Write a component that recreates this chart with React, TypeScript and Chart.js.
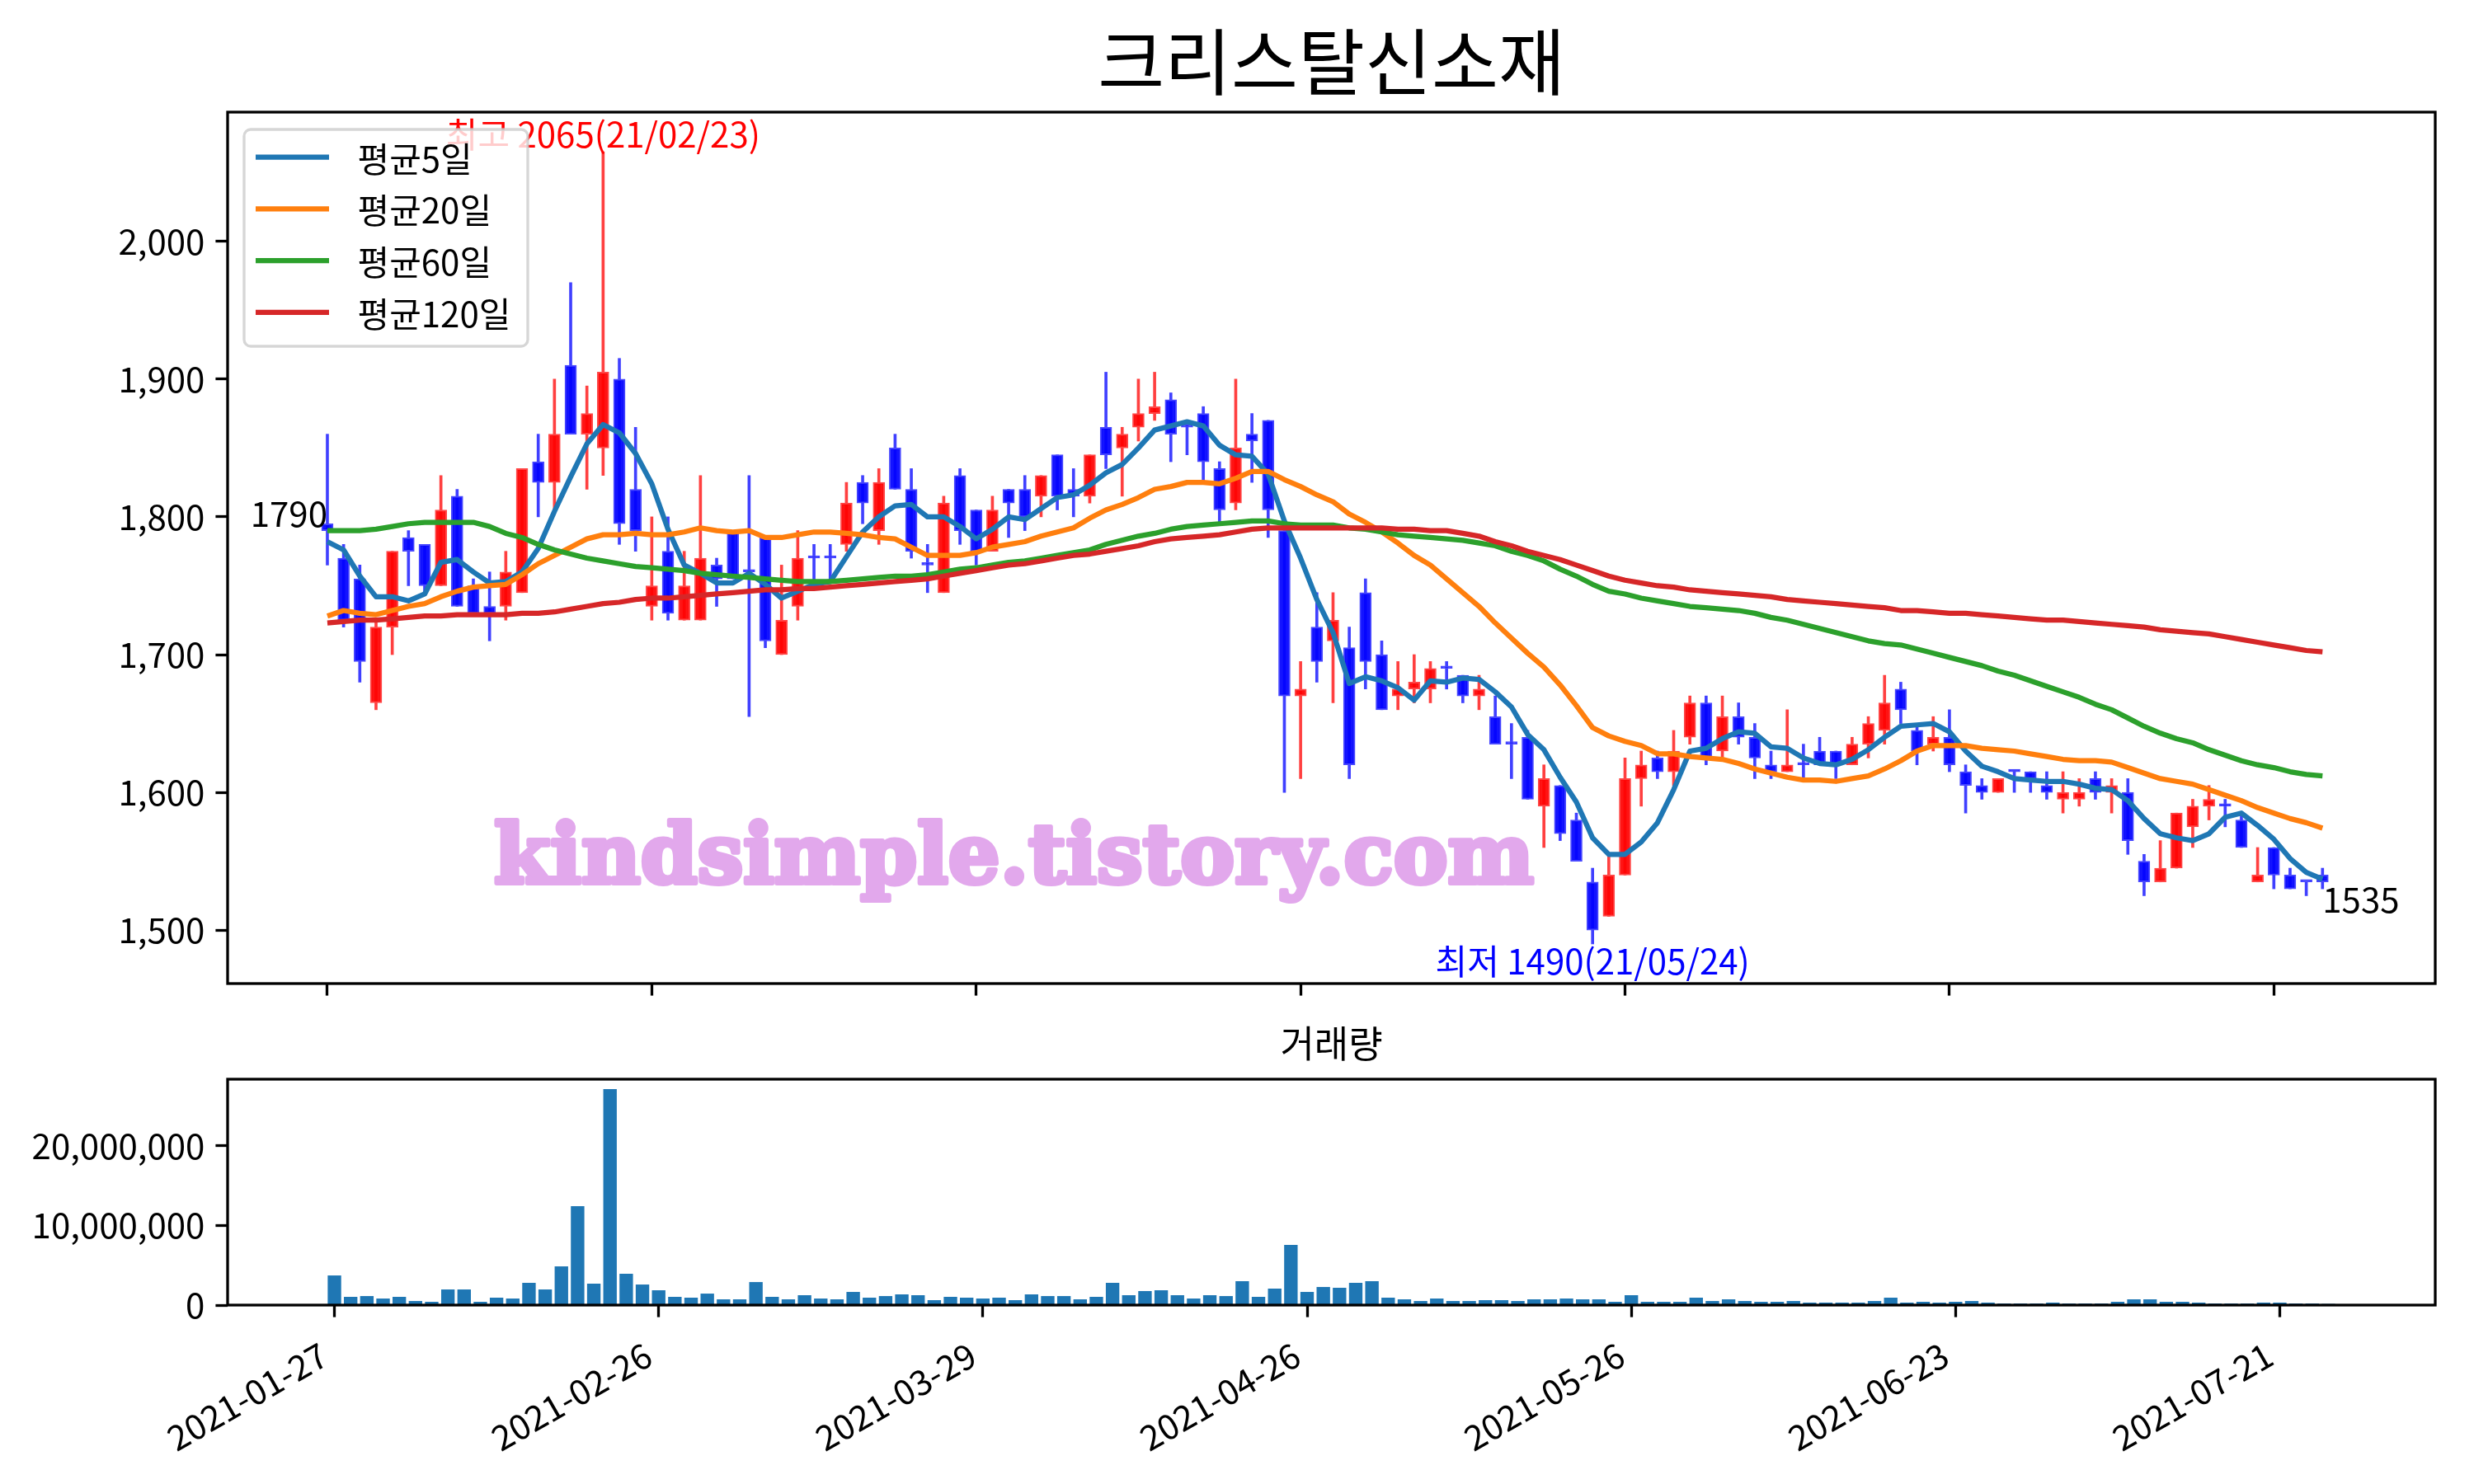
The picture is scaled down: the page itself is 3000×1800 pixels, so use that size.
import React, { useEffect, useRef } from 'react';
import { Chart, registerables } from 'chart.js';

Chart.register(...registerables);

// ---------------- data ----------------
const dates = [
  '2021-01-27', '2021-01-28', '2021-01-29',
  '2021-02-01', '2021-02-02', '2021-02-03', '2021-02-04', '2021-02-05',
  '2021-02-08', '2021-02-09', '2021-02-10',
  '2021-02-15', '2021-02-16', '2021-02-17', '2021-02-18', '2021-02-19',
  '2021-02-22', '2021-02-23', '2021-02-24', '2021-02-25', '2021-02-26',
  '2021-03-02', '2021-03-03', '2021-03-04', '2021-03-05',
  '2021-03-08', '2021-03-09', '2021-03-10', '2021-03-11', '2021-03-12',
  '2021-03-15', '2021-03-16', '2021-03-17', '2021-03-18', '2021-03-19',
  '2021-03-22', '2021-03-23', '2021-03-24', '2021-03-25', '2021-03-26',
  '2021-03-29', '2021-03-30', '2021-03-31', '2021-04-01', '2021-04-02',
  '2021-04-05', '2021-04-06', '2021-04-07', '2021-04-08', '2021-04-09',
  '2021-04-12', '2021-04-13', '2021-04-14', '2021-04-15', '2021-04-16',
  '2021-04-19', '2021-04-20', '2021-04-21', '2021-04-22', '2021-04-23',
  '2021-04-26', '2021-04-27', '2021-04-28', '2021-04-29', '2021-04-30',
  '2021-05-03', '2021-05-04', '2021-05-06', '2021-05-07',
  '2021-05-10', '2021-05-11', '2021-05-12', '2021-05-13', '2021-05-14',
  '2021-05-17', '2021-05-18', '2021-05-20', '2021-05-21',
  '2021-05-24', '2021-05-25', '2021-05-26', '2021-05-27', '2021-05-28',
  '2021-05-31', '2021-06-01', '2021-06-02', '2021-06-03', '2021-06-04',
  '2021-06-07', '2021-06-08', '2021-06-09', '2021-06-10', '2021-06-11',
  '2021-06-14', '2021-06-15', '2021-06-16', '2021-06-17', '2021-06-18',
  '2021-06-21', '2021-06-22', '2021-06-23', '2021-06-24', '2021-06-25',
  '2021-06-28', '2021-06-29', '2021-06-30', '2021-07-01', '2021-07-02',
  '2021-07-05', '2021-07-06', '2021-07-07', '2021-07-08', '2021-07-09',
  '2021-07-12', '2021-07-13', '2021-07-14', '2021-07-15', '2021-07-16',
  '2021-07-19', '2021-07-20', '2021-07-21', '2021-07-22', '2021-07-23',
  '2021-07-26',
];

const opens = [
  1795, 1770, 1755, 1665, 1720, 1785, 1780, 1750, 1815, 1750,
  1735, 1735, 1745, 1840, 1825, 1910, 1860, 1850, 1900, 1820,
  1735, 1775, 1725, 1725, 1765, 1790, 1760, 1785, 1700, 1735,
  1770, 1770, 1780, 1825, 1790, 1850, 1820, 1765, 1745, 1830,
  1805, 1775, 1820, 1820, 1815, 1845, 1820, 1815, 1865, 1850,
  1865, 1875, 1885, 1865, 1875, 1835, 1810, 1860, 1870, 1790,
  1670, 1720, 1710, 1705, 1745, 1700, 1670, 1675, 1675, 1690,
  1685, 1670, 1655, 1635, 1640, 1590, 1605, 1580, 1535, 1510,
  1540, 1610, 1625, 1615, 1640, 1665, 1630, 1655, 1640, 1620,
  1615, 1620, 1630, 1630, 1620, 1635, 1645, 1675, 1645, 1635,
  1640, 1615, 1605, 1600, 1615, 1615, 1605, 1595, 1595, 1610,
  1600, 1600, 1550, 1535, 1545, 1575, 1590, 1590, 1580, 1535,
  1560, 1540, 1535, 1540,
];

const highs = [
  1860, 1780, 1765, 1725, 1775, 1790, 1780, 1830, 1820, 1755,
  1760, 1775, 1835, 1860, 1900, 1970, 1895, 2065, 1915, 1865,
  1800, 1800, 1775, 1830, 1770, 1790, 1830, 1785, 1765, 1790,
  1780, 1780, 1825, 1830, 1835, 1860, 1835, 1780, 1815, 1835,
  1805, 1815, 1820, 1830, 1830, 1845, 1835, 1845, 1905, 1865,
  1900, 1905, 1890, 1870, 1880, 1840, 1900, 1875, 1870, 1790,
  1695, 1745, 1745, 1720, 1755, 1710, 1695, 1700, 1695, 1695,
  1685, 1685, 1670, 1650, 1645, 1620, 1605, 1585, 1545, 1555,
  1625, 1630, 1630, 1645, 1670, 1670, 1670, 1665, 1650, 1630,
  1660, 1635, 1640, 1630, 1640, 1655, 1685, 1680, 1650, 1655,
  1660, 1620, 1610, 1610, 1615, 1615, 1615, 1615, 1610, 1615,
  1610, 1610, 1555, 1565, 1585, 1595, 1605, 1595, 1585, 1560,
  1560, 1545, 1535, 1545,
];

const lows = [
  1765, 1720, 1680, 1660, 1700, 1750, 1745, 1750, 1735, 1730,
  1710, 1725, 1745, 1800, 1805, 1860, 1820, 1830, 1780, 1775,
  1725, 1725, 1725, 1725, 1735, 1755, 1655, 1705, 1700, 1725,
  1750, 1755, 1775, 1795, 1780, 1820, 1770, 1745, 1745, 1780,
  1765, 1775, 1785, 1790, 1800, 1805, 1800, 1810, 1835, 1815,
  1855, 1870, 1840, 1845, 1825, 1795, 1805, 1825, 1785, 1600,
  1610, 1680, 1665, 1610, 1675, 1660, 1660, 1665, 1665, 1675,
  1665, 1660, 1635, 1610, 1595, 1560, 1565, 1550, 1490, 1510,
  1540, 1590, 1610, 1605, 1635, 1620, 1625, 1635, 1610, 1610,
  1615, 1610, 1620, 1610, 1620, 1625, 1635, 1650, 1620, 1630,
  1615, 1585, 1595, 1600, 1600, 1600, 1595, 1585, 1590, 1595,
  1585, 1555, 1525, 1535, 1545, 1560, 1580, 1575, 1560, 1535,
  1530, 1530, 1525, 1530,
];

const closes = [
  1790, 1725, 1695, 1720, 1775, 1775, 1750, 1805, 1735, 1730,
  1730, 1760, 1835, 1825, 1860, 1860, 1875, 1905, 1795, 1790,
  1750, 1730, 1750, 1770, 1755, 1755, 1760, 1710, 1725, 1770,
  1770, 1770, 1810, 1810, 1825, 1820, 1775, 1765, 1810, 1790,
  1775, 1805, 1810, 1800, 1830, 1815, 1815, 1845, 1845, 1860,
  1875, 1880, 1860, 1865, 1840, 1805, 1850, 1855, 1805, 1670,
  1675, 1695, 1725, 1620, 1695, 1660, 1675, 1680, 1690, 1690,
  1670, 1675, 1635, 1635, 1595, 1610, 1570, 1550, 1500, 1540,
  1610, 1620, 1615, 1630, 1665, 1625, 1655, 1640, 1625, 1615,
  1620, 1620, 1620, 1620, 1635, 1650, 1665, 1660, 1630, 1640,
  1620, 1605, 1600, 1610, 1615, 1610, 1600, 1600, 1600, 1600,
  1605, 1565, 1535, 1545, 1585, 1590, 1595, 1590, 1560, 1540,
  1540, 1530, 1535, 1535,
];

// volume in millions of shares
const volumesMillions = [
  3.69, 1.00, 1.10, 0.79, 1.00, 0.48, 0.38, 1.93, 1.93, 0.38,
  0.90, 0.79, 2.76, 1.93, 4.83, 12.39, 2.66, 27.09, 3.90, 2.55,
  1.83, 1.00, 0.90, 1.41, 0.69, 0.69, 2.86, 1.00, 0.69, 1.21,
  0.79, 0.69, 1.62, 0.90, 1.10, 1.31, 1.21, 0.59, 1.00, 0.90,
  0.79, 0.90, 0.59, 1.31, 1.10, 1.10, 0.69, 1.00, 2.76, 1.21,
  1.73, 1.83, 1.21, 0.79, 1.21, 1.10, 2.97, 1.00, 2.04, 7.52,
  1.62, 2.24, 2.14, 2.76, 2.97, 0.90, 0.69, 0.48, 0.79, 0.48,
  0.48, 0.59, 0.59, 0.48, 0.69, 0.69, 0.79, 0.69, 0.69, 0.38,
  1.21, 0.38, 0.38, 0.38, 0.90, 0.48, 0.69, 0.48, 0.38, 0.38,
  0.48, 0.28, 0.28, 0.28, 0.28, 0.48, 0.90, 0.28, 0.38, 0.28,
  0.38, 0.48, 0.28, 0.17, 0.17, 0.17, 0.28, 0.17, 0.17, 0.17,
  0.38, 0.69, 0.69, 0.38, 0.38, 0.28, 0.17, 0.17, 0.17, 0.28,
  0.28, 0.17, 0.17, 0.12,
];

const ma5 = [
  1782, 1776, 1757, 1742, 1742, 1739, 1744, 1767, 1769, 1760,
  1752, 1753, 1760, 1777, 1804, 1829, 1853, 1867, 1861, 1846,
  1824, 1791, 1765, 1759, 1752, 1752, 1759, 1751, 1741, 1746,
  1751, 1753, 1771, 1789, 1800, 1808, 1809, 1800, 1800, 1793,
  1784, 1791, 1800, 1798, 1806, 1814, 1816, 1823, 1832, 1838,
  1850, 1863, 1866, 1869, 1866, 1852, 1845, 1844, 1831, 1797,
  1770, 1740, 1716, 1679, 1684, 1681, 1676, 1667, 1681, 1680,
  1683, 1682, 1673, 1662, 1642, 1631, 1611, 1593, 1567, 1555,
  1555, 1564, 1578, 1602, 1630, 1632, 1639, 1644, 1643, 1633,
  1632, 1625, 1621, 1620, 1624, 1631, 1640, 1648, 1649, 1650,
  1644, 1630, 1619, 1615, 1610, 1609, 1608, 1608, 1606, 1603,
  1602, 1594, 1581, 1570, 1567, 1565, 1570, 1582, 1585, 1576,
  1566, 1552, 1542, 1537,
];

const ma20 = [
  1728, 1732, 1730, 1729, 1732, 1735, 1737, 1742, 1746, 1749,
  1750, 1751, 1758, 1766, 1772, 1778, 1784, 1787, 1787, 1788,
  1787, 1787, 1789, 1792, 1790, 1789, 1790, 1785, 1785, 1787,
  1789, 1789, 1788, 1787, 1785, 1784, 1778, 1772, 1772, 1772,
  1774, 1778, 1780, 1782, 1786, 1789, 1792, 1799, 1805, 1809,
  1814, 1820, 1822, 1825, 1825, 1824, 1828, 1833, 1833, 1827,
  1822, 1816, 1811, 1802, 1796, 1789, 1781, 1772, 1765, 1755,
  1745, 1735, 1723, 1712, 1701, 1691, 1678, 1663, 1647, 1641,
  1637, 1634, 1628, 1628, 1626, 1625, 1624, 1621, 1617, 1614,
  1611, 1609, 1609, 1608, 1610, 1612, 1617, 1623, 1630, 1634,
  1634, 1634, 1632, 1631, 1630, 1628, 1626, 1624, 1623, 1623,
  1622, 1618, 1614, 1610, 1608, 1606, 1602, 1598, 1594, 1589,
  1585, 1581, 1578, 1574,
];

const ma60 = [
  1790, 1790, 1790, 1791, 1793, 1795, 1796, 1796, 1796, 1796,
  1793, 1788, 1785, 1780, 1776, 1773, 1770, 1768, 1766, 1764,
  1763, 1762, 1761, 1759, 1758, 1757, 1756, 1755, 1754, 1753,
  1753, 1753, 1754, 1755, 1756, 1757, 1757, 1758, 1760, 1762,
  1763, 1765, 1767, 1768, 1770, 1772, 1774, 1776, 1780, 1783,
  1786, 1788, 1791, 1793, 1794, 1795, 1796, 1797, 1797, 1795,
  1794, 1794, 1794, 1792, 1791, 1789, 1787, 1786, 1785, 1784,
  1783, 1781, 1779, 1775, 1772, 1768, 1762, 1757, 1751, 1746,
  1744, 1741, 1739, 1737, 1735, 1734, 1733, 1732, 1730, 1727,
  1725, 1722, 1719, 1716, 1713, 1710, 1708, 1707, 1704, 1701,
  1698, 1695, 1692, 1688, 1685, 1681, 1677, 1673, 1669, 1664,
  1660, 1654, 1648, 1643, 1639, 1636, 1631, 1627, 1623, 1620,
  1618, 1615, 1613, 1612,
];

const ma120 = [
  1723, 1724, 1725, 1725, 1726, 1727, 1728, 1728, 1729, 1729,
  1729, 1729, 1730, 1730, 1731, 1733, 1735, 1737, 1738, 1740,
  1741, 1741, 1742, 1743, 1744, 1745, 1746, 1747, 1747, 1748,
  1748, 1749, 1750, 1751, 1752, 1753, 1754, 1755, 1757, 1759,
  1761, 1763, 1765, 1766, 1768, 1770, 1772, 1773, 1775, 1777,
  1779, 1782, 1784, 1785, 1786, 1787, 1789, 1791, 1792, 1792,
  1792, 1792, 1792, 1792, 1792, 1792, 1791, 1791, 1790, 1790,
  1788, 1786, 1782, 1779, 1775, 1772, 1769, 1765, 1761, 1757,
  1754, 1752, 1750, 1749, 1747, 1746, 1745, 1744, 1743, 1742,
  1740, 1739, 1738, 1737, 1736, 1735, 1734, 1732, 1732, 1731,
  1730, 1730, 1729, 1728, 1727, 1726, 1725, 1725, 1724, 1723,
  1722, 1721, 1720, 1718, 1717, 1716, 1715, 1713, 1711, 1709,
  1707, 1705, 1703, 1702,
];

const tickIndices = [0, 20, 40, 60, 80, 100, 120];
const priceTicks = [1500, 1600, 1700, 1800, 1900, 2000];
const volumeTicks = [0, 10000000, 20000000];

const maSeries = [
  { label: '평균5일', values: ma5, color: '#1f77b4' },
  { label: '평균20일', values: ma20, color: '#ff7f0e' },
  { label: '평균60일', values: ma60, color: '#2ca02c' },
  { label: '평균120일', values: ma120, color: '#d62728' },
];

const titleText = '크리스탈신소재';
const volumeTitle = '거래량';
const watermark = 'kindsimple.tistory.com';

// ---------------- layout ----------------
const W = 3000;
const MAIN_H = 1240;
const VOL_H = 560;
const PLOT_L = 276;
const PLOT_R = 2953;
const MAIN_T = 136;
const MAIN_B = 1193;
const VOL_T = 1309 - MAIN_H;
const VOL_B = 1583 - MAIN_H;
const FONT = '"Noto Sans CJK KR", "Noto Sans", sans-serif';
const FS = 42;
const TICK_LEN = 14.6;
const TICK_W = 3.3;

function fmt(v: number) {
  return Number(v).toLocaleString('en-US');
}

function drawSpines(ctx: CanvasRenderingContext2D, a: any) {
  ctx.save();
  ctx.strokeStyle = '#000';
  ctx.lineWidth = TICK_W;
  ctx.strokeRect(a.left, a.top, a.right - a.left, a.bottom - a.top);
  ctx.restore();
}

function roundRectPath(ctx: CanvasRenderingContext2D, x: number, y: number, w: number, h: number, r: number) {
  ctx.beginPath();
  ctx.moveTo(x + r, y);
  ctx.lineTo(x + w - r, y);
  ctx.arcTo(x + w, y, x + w, y + r, r);
  ctx.lineTo(x + w, y + h - r);
  ctx.arcTo(x + w, y + h, x + w - r, y + h, r);
  ctx.lineTo(x + r, y + h);
  ctx.arcTo(x, y + h, x, y + h - r, r);
  ctx.lineTo(x, y + r);
  ctx.arcTo(x, y, x + r, y, r);
  ctx.closePath();
}

export default function App() {
  const mainRef = useRef<HTMLCanvasElement>(null);
  const volRef = useRef<HTMLCanvasElement>(null);

  useEffect(() => {
    document.body.style.margin = '0';
    const idx = dates.map((_, i) => i);
    const up = idx.map((i) => closes[i] > opens[i]);
    const bodyFill = up.map((u) => (u ? 'rgba(255,0,0,0.92)' : 'rgba(0,0,255,0.92)'));
    const bodyEdge = up.map((u) => (u ? 'rgba(255,70,70,1)' : 'rgba(70,70,255,1)'));
    const wickColor = up.map((u) => (u ? 'rgba(255,0,0,0.75)' : 'rgba(0,0,255,0.75)'));

    const hiVal = Math.max(...highs);
    const hiIdx = highs.indexOf(hiVal);
    const loVal = Math.min(...lows);
    const loIdx = lows.indexOf(loVal);
    const short = (d: string) => d.slice(2).replace(/-/g, '/');

    const tickStyle = {
      display: true,
      drawOnChartArea: false,
      drawTicks: true,
      tickLength: TICK_LEN,
      tickWidth: TICK_W,
      tickColor: '#000',
      offset: false,
    };

    const mainDeco = {
      id: 'mainDeco',
      afterDatasetsDraw(chart: any) {
        const ctx: CanvasRenderingContext2D = chart.ctx;
        const xs = chart.scales.x;
        const ys = chart.scales.y;
        const a = chart.chartArea;

        // watermark
        ctx.save();
        ctx.font = 'bold 100px "DejaVu Serif"';
        const ww = ctx.measureText(watermark).width;
        ctx.translate(599, 1071);
        ctx.scale(1261 / ww, 1);
        ctx.fillStyle = '#e2a8ec';
        ctx.strokeStyle = '#e2a8ec';
        ctx.lineWidth = 6;
        ctx.lineJoin = 'round';
        ctx.textBaseline = 'alphabetic';
        ctx.strokeText(watermark, 0, 0);
        ctx.fillText(watermark, 0, 0);
        ctx.restore();

        // annotations
        ctx.save();
        ctx.font = `${FS}px ${FONT}`;
        ctx.fillStyle = '#ff0000';
        ctx.textAlign = 'center';
        ctx.textBaseline = 'bottom';
        ctx.fillText(`최고 ${hiVal}(${short(dates[hiIdx])})`, xs.getPixelForValue(hiIdx), ys.getPixelForValue(hiVal));
        ctx.fillStyle = '#0000ff';
        ctx.textBaseline = 'top';
        ctx.fillText(`최저 ${loVal}(${short(dates[loIdx])})`, xs.getPixelForValue(loIdx), ys.getPixelForValue(loVal));
        ctx.fillStyle = '#000';
        ctx.textAlign = 'right';
        ctx.textBaseline = 'bottom';
        ctx.fillText(String(closes[0]), xs.getPixelForValue(0), ys.getPixelForValue(closes[0]));
        const last = closes.length - 1;
        ctx.textAlign = 'left';
        ctx.textBaseline = 'top';
        ctx.fillText(String(closes[last]), xs.getPixelForValue(last), ys.getPixelForValue(closes[last]));
        ctx.restore();

        // legend
        ctx.save();
        roundRectPath(ctx, 296, 157, 344, 263, 8);
        ctx.fillStyle = 'rgba(255,255,255,0.8)';
        ctx.fill();
        ctx.strokeStyle = 'rgba(204,204,204,0.8)';
        ctx.lineWidth = 3.3;
        ctx.stroke();
        ctx.font = `${FS}px ${FONT}`;
        ctx.textAlign = 'left';
        ctx.textBaseline = 'middle';
        maSeries.forEach((s, k) => {
          const y = 190.7 + k * 62.75;
          ctx.strokeStyle = s.color;
          ctx.lineWidth = 6.25;
          ctx.beginPath();
          ctx.moveTo(310, y);
          ctx.lineTo(399, y);
          ctx.stroke();
          ctx.fillStyle = '#000';
          ctx.fillText(s.label, 433.5, y + 2);
        });
        ctx.restore();

        drawSpines(ctx, a);

        // title
        ctx.save();
        ctx.font = `88px ${FONT}`;
        ctx.fillStyle = '#000';
        ctx.textAlign = 'center';
        ctx.textBaseline = 'alphabetic';
        ctx.fillText(titleText, (a.left + a.right) / 2, a.top - 28);
        ctx.restore();
      },
    };

    const lineSets = maSeries.map((s, k) => ({
      type: 'line' as const,
      label: s.label,
      data: idx.map((i) => ({ x: i, y: s.values[i] })),
      borderColor: s.color,
      backgroundColor: s.color,
      borderWidth: 6.25,
      pointRadius: 0,
      tension: 0,
      fill: false,
      borderJoinStyle: 'round' as const,
      order: 3 - k,
    }));

    const mainChart = new Chart(mainRef.current as HTMLCanvasElement, {
      type: 'bar',
      data: {
        datasets: [
          ...lineSets,
          {
            type: 'bar',
            label: 'body',
            data: idx.map((i) => ({ x: i, y: [opens[i], closes[i]] })),
            backgroundColor: bodyFill,
            borderColor: bodyEdge,
            borderWidth: 2,
            borderSkipped: false,
            barThickness: 14,
            minBarLength: 3,
            grouped: false,
            order: 10,
          },
          {
            type: 'bar',
            label: 'wick',
            data: idx.map((i) => ({ x: i, y: [lows[i], highs[i]] })),
            backgroundColor: wickColor,
            borderWidth: 0,
            barThickness: 3,
            grouped: false,
            order: 11,
          },
        ] as any,
      },
      options: {
        responsive: false,
        animation: false,
        devicePixelRatio: 1,
        layout: { padding: { left: 0, right: W - PLOT_R, top: MAIN_T, bottom: 0 } },
        plugins: { legend: { display: false }, tooltip: { enabled: false }, title: { display: false } },
        scales: {
          x: {
            type: 'linear',
            min: -6.15,
            max: 129.95,
            offset: false,
            afterBuildTicks: (s: any) => {
              s.ticks = tickIndices.map((v) => ({ value: v }));
            },
            afterFit: (s: any) => {
              s.height = MAIN_H - MAIN_B;
            },
            ticks: { display: false },
            grid: tickStyle,
            border: { display: false },
          },
          y: {
            type: 'linear',
            min: 1461.25,
            max: 2093.75,
            afterBuildTicks: (s: any) => {
              s.ticks = priceTicks.map((v) => ({ value: v }));
            },
            afterFit: (s: any) => {
              s.width = PLOT_L;
            },
            ticks: {
              font: { family: FONT, size: FS },
              color: '#000',
              padding: 13,
              callback: (v: any) => fmt(v),
            },
            grid: tickStyle,
            border: { display: false },
          },
        } as any,
      },
      plugins: [mainDeco],
    });

    const volDeco = {
      id: 'volDeco',
      afterDatasetsDraw(chart: any) {
        const ctx: CanvasRenderingContext2D = chart.ctx;
        const a = chart.chartArea;
        const xs = chart.scales.x;
        drawSpines(ctx, a);
        ctx.save();
        ctx.font = `45px ${FONT}`;
        ctx.fillStyle = '#000';
        ctx.textAlign = 'center';
        ctx.textBaseline = 'alphabetic';
        ctx.fillText(volumeTitle, (a.left + a.right) / 2, a.top - 26);
        // rotated date labels
        ctx.font = `${FS}px ${FONT}`;
        ctx.textAlign = 'right';
        ctx.textBaseline = 'top';
        tickIndices.forEach((t) => {
          const x = xs.getPixelForValue(t);
          ctx.save();
          ctx.translate(x - 23, a.bottom + TICK_LEN + 24);
          ctx.rotate(-Math.PI / 6);
          ctx.fillText(dates[t], 0, 0);
          ctx.restore();
        });
        ctx.restore();
      },
    };

    const volChart = new Chart(volRef.current as HTMLCanvasElement, {
      type: 'bar',
      data: {
        datasets: [
          {
            label: volumeTitle,
            data: idx.map((i) => ({ x: i, y: volumesMillions[i] * 1000000 })),
            backgroundColor: '#1f77b4',
            borderWidth: 0,
            barThickness: 15.7,
            grouped: false,
          },
        ] as any,
      },
      options: {
        responsive: false,
        animation: false,
        devicePixelRatio: 1,
        layout: { padding: { left: 0, right: W - PLOT_R, top: VOL_T, bottom: 0 } },
        plugins: { legend: { display: false }, tooltip: { enabled: false }, title: { display: false } },
        scales: {
          x: {
            type: 'linear',
            min: -6.59,
            max: 129.59,
            offset: false,
            afterBuildTicks: (s: any) => {
              s.ticks = tickIndices.map((v) => ({ value: v }));
            },
            afterFit: (s: any) => {
              s.height = VOL_H - VOL_B;
            },
            ticks: { display: false },
            grid: tickStyle,
            border: { display: false },
          },
          y: {
            type: 'linear',
            min: 0,
            max: 28380000,
            afterBuildTicks: (s: any) => {
              s.ticks = volumeTicks.map((v) => ({ value: v }));
            },
            afterFit: (s: any) => {
              s.width = PLOT_L;
            },
            ticks: {
              font: { family: FONT, size: FS },
              color: '#000',
              padding: 13,
              callback: (v: any) => fmt(v),
            },
            grid: tickStyle,
            border: { display: false },
          },
        } as any,
      },
      plugins: [volDeco],
    });

    return () => {
      mainChart.destroy();
      volChart.destroy();
    };
  }, []);

  return (
    <div style={{ position: 'relative', width: W, height: 1800, background: '#fff', overflow: 'hidden' }}>
      <canvas
        ref={mainRef}
        width={W}
        height={MAIN_H}
        style={{ position: 'absolute', left: 0, top: 0, width: W, height: MAIN_H }}
      />
      <canvas
        ref={volRef}
        width={W}
        height={VOL_H}
        style={{ position: 'absolute', left: 0, top: MAIN_H, width: W, height: VOL_H }}
      />
    </div>
  );
}
